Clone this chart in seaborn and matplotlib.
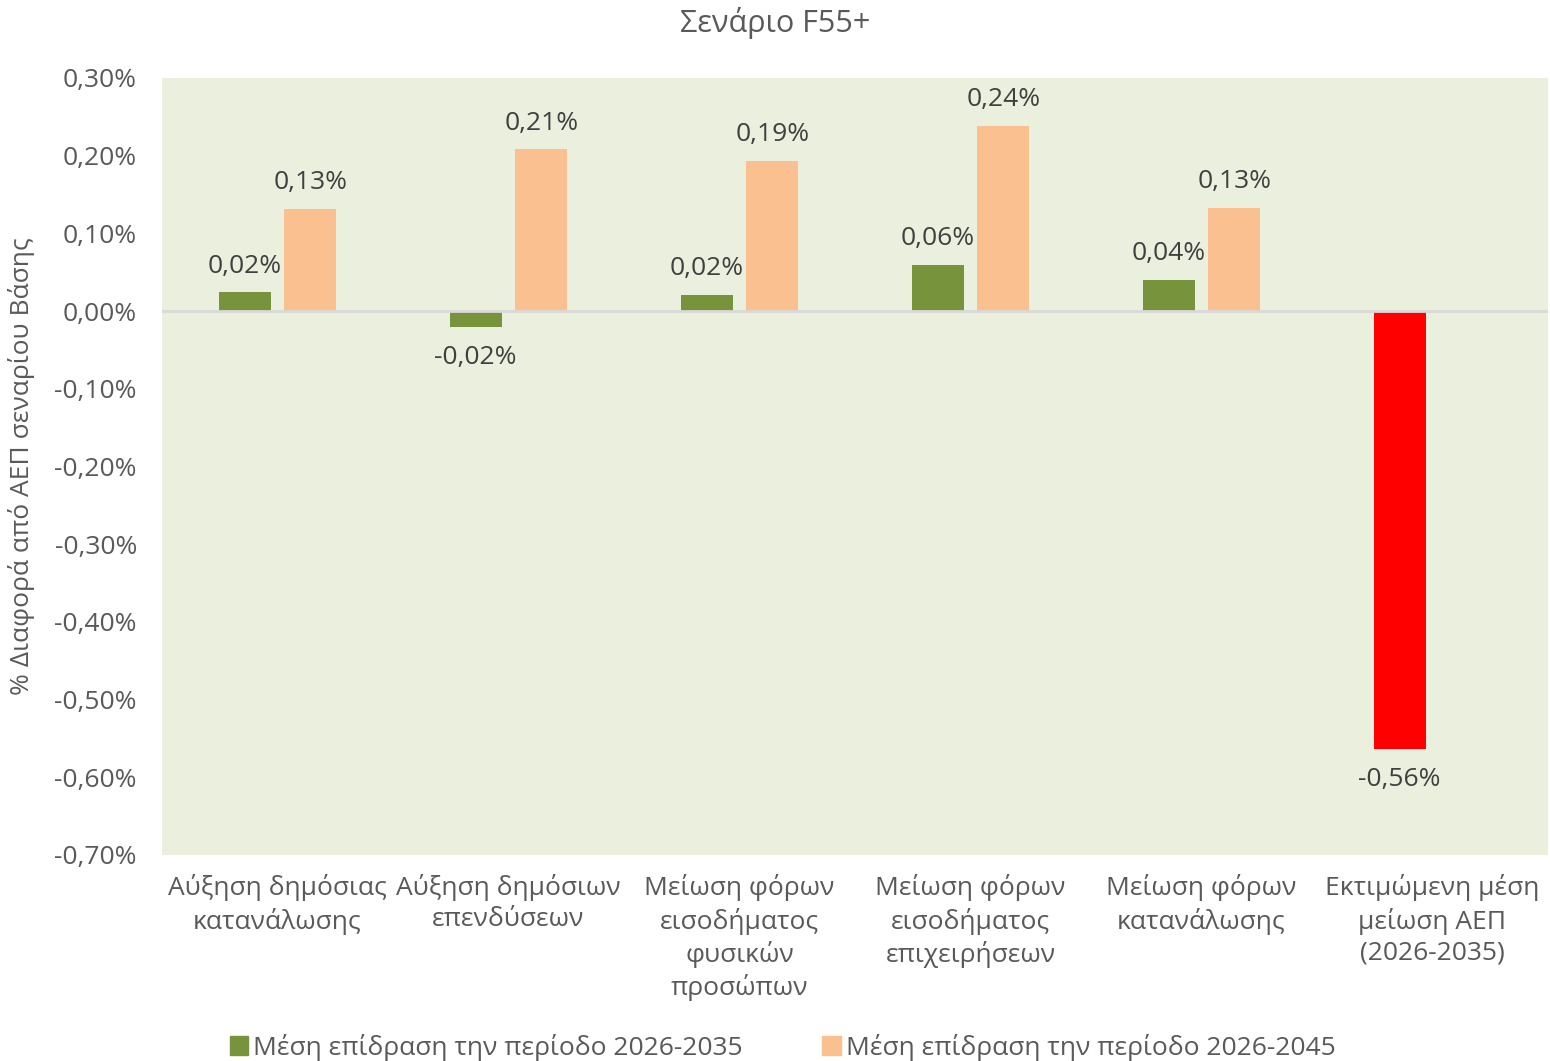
import matplotlib
matplotlib.use("Agg")
import matplotlib.pyplot as plt
import seaborn as sns
import pandas as pd
import numpy as np
from matplotlib.patches import Patch

categories = [
    "Αύξηση δημόσιας\nκατανάλωσης",
    "Αύξηση δημόσιων\nεπενδύσεων",
    "Μείωση φόρων\nεισοδήματος\nφυσικών\nπροσώπων",
    "Μείωση φόρων\nεισοδήματος\nεπιχειρήσεων",
    "Μείωση φόρων\nκατανάλωσης",
    "Εκτιμώμενη μέση\nμείωση ΑΕΠ\n(2026-2035)",
]
series_names = ["Μέση επίδραση την περίοδο 2026-2035", "Μέση επίδραση την περίοδο 2026-2045"]
effect_2035 = [0.024, -0.020, 0.021, 0.059, 0.040, -0.564]
effect_2045 = [0.131, 0.208, 0.193, 0.238, 0.133, np.nan]

green = "#77933C"
peach = "#FAC090"
red = "#FF0000"
text_col = "#595959"
label_col = "#404040"

df = pd.DataFrame({
    "cat": categories * 2,
    "series": [series_names[0]] * 6 + [series_names[1]] * 6,
    "value": effect_2035 + effect_2045,
})

sns.set_style("white")
plt.rcParams["font.family"] = ["Open Sans", "DejaVu Sans"]

fig = plt.figure(figsize=(15.5, 10.61), dpi=100)
ax = fig.add_axes([0.1045, 0.1942, 0.8942, 0.7323])
ax.set_facecolor("#EBF0DE")

sns.barplot(data=df, x="cat", y="value", hue="series", order=categories,
            hue_order=series_names, palette=[green, peach], width=0.57, gap=0.21,
            saturation=1, linewidth=0, errorbar=None, legend=False, ax=ax)

# the last green bar is the total, shown in red
for p in ax.patches:
    if p.get_height() < -0.3:
        p.set_facecolor(red)

ax.axhline(0, color="#D9D9D9", lw=2, zorder=1)

for p in ax.patches:
    h = p.get_height()
    if np.isnan(h) or p.get_width() == 0:
        continue
    x = p.get_x() + p.get_width() / 2
    off = 19 if h >= 0 else -22
    ax.annotate(f"{h:.2f}%".replace(".", ","), (x, h), xytext=(0, off),
                textcoords="offset points", ha="center", va="center",
                fontsize=19, color=label_col)

ax.set_ylim(-0.70, 0.30)
ax.set_xlim(-0.5, 5.5)
ax.set_yticks(np.arange(-0.70, 0.31, 0.10))
ax.set_yticklabels([f"{v:.2f}%".replace(".", ",").replace("-0,00", "0,00") for v in np.arange(-0.70, 0.31, 0.10)])
ax.tick_params(axis="y", length=0, pad=18, labelsize=19, labelcolor=text_col)
ax.tick_params(axis="x", length=0, pad=14, labelsize=19, labelcolor=text_col)
for t in ax.get_xticklabels():
    t.set_linespacing(1.3)
ax.set_xlabel("")
ax.set_ylabel("% Διαφορά από ΑΕΠ σεναρίου Βάσης", fontsize=19, color=text_col, labelpad=14)
for s in ax.spines.values():
    s.set_visible(False)

fig.suptitle("Σενάριο F55+", fontsize=22, color=text_col, y=0.993, va="top")

handles = [Patch(color=green), Patch(color=peach)]
fig.legend(handles, series_names, loc="lower center", ncol=2, frameon=False,
           fontsize=19, labelcolor=text_col, handlelength=0.7, handleheight=0.7,
           handletextpad=0.2, columnspacing=3.0, bbox_to_anchor=(0.505, -0.022))

fig.savefig("out.png", dpi=100)
